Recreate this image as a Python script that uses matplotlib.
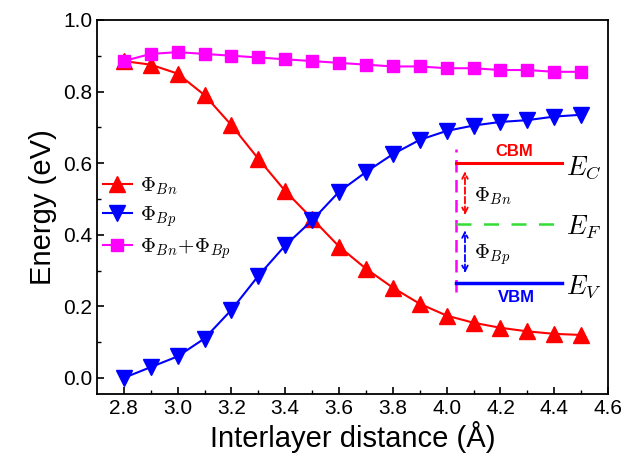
import numpy as np
import matplotlib.pyplot as plt

plt.rcParams['font.family'] = ['Liberation Sans', 'DejaVu Sans']
plt.rcParams['mathtext.fontset'] = 'cm'

# interlayer distance (Angstrom)
distance = [2.8, 2.9, 3.0, 3.1, 3.2, 3.3, 3.4, 3.5, 3.6, 3.7, 3.8, 3.9,
            4.0, 4.1, 4.2, 4.3, 4.4, 4.5]
# Schottky barrier heights (eV)
phi_bn = [0.885, 0.875, 0.85, 0.79, 0.706, 0.612, 0.522, 0.445, 0.367, 0.305,
          0.252, 0.207, 0.174, 0.154, 0.14, 0.13, 0.123, 0.12]
phi_bp = [0.0, 0.03, 0.06, 0.11, 0.19, 0.285, 0.37, 0.44, 0.52, 0.575,
          0.625, 0.665, 0.69, 0.705, 0.715, 0.72, 0.73, 0.735]
phi_sum = [0.885, 0.905, 0.91, 0.905, 0.9, 0.895, 0.89, 0.885, 0.88, 0.875,
           0.87, 0.87, 0.865, 0.865, 0.86, 0.86, 0.855, 0.855]

fig = plt.figure(figsize=(6.25, 4.63), dpi=100)
ax = fig.add_axes([0.155, 0.149, 0.818, 0.808])

ax.plot(distance, phi_bn, '-^', color='red', ms=11, lw=1.5, label=r'$\Phi_{Bn}$')
ax.plot(distance, phi_bp, '-v', color='blue', ms=11, lw=1.5, label=r'$\Phi_{Bp}$')
ax.plot(distance, phi_sum, '-s', color='magenta', ms=9, lw=1.5,
        label=r'$\Phi_{Bn}\!+\!\Phi_{Bp}$')

# band diagram inset
x0, x1 = 4.035, 4.43
ec, ef, ev = 0.599, 0.431, 0.266
ax.plot([x0, x0], [0.24, 0.64], '--', color='magenta', lw=1.8, dashes=(5, 3))
ax.plot([x0, x1], [ec, ec], '-', color='red', lw=2.2)
ax.plot([x0, x1], [ef, ef], '--', color='#33dd33', lw=1.8, dashes=(6, 5))
ax.plot([x0, x1], [ev, ev], '-', color='blue', lw=2.5)
ax.annotate('', xy=(4.068, 0.585), xytext=(4.068, 0.447),
            arrowprops=dict(arrowstyle='<->', color='red', lw=1.3, ls='--'))
ax.annotate('', xy=(4.068, 0.42), xytext=(4.068, 0.285),
            arrowprops=dict(arrowstyle='<->', color='blue', lw=1.3, ls='--'))
ax.text(4.1, 0.507, r'$\Phi_{Bn}$', fontsize=15, va='center')
ax.text(4.1, 0.345, r'$\Phi_{Bp}$', fontsize=15, va='center')
ax.text(4.25, 0.633, 'CBM', color='red', fontsize=12, fontweight='bold',
        ha='center', va='center')
ax.text(4.26, 0.224, 'VBM', color='blue', fontsize=12, fontweight='bold',
        ha='center', va='center')
ax.text(4.445, 0.588, r'$E_C$', fontsize=19, va='center')
ax.text(4.445, 0.42, r'$E_F$', fontsize=19, va='center')
ax.text(4.445, 0.255, r'$E_V$', fontsize=19, va='center')

ax.set_xlim(2.7, 4.6)
ax.set_ylim(-0.045, 1.0)
ax.set_xticks(np.arange(2.8, 4.61, 0.2))
ax.set_xticks(np.arange(2.9, 4.6, 0.2), minor=True)
ax.set_yticks(np.arange(0.0, 1.01, 0.2))
ax.set_yticks(np.arange(0.1, 1.0, 0.2), minor=True)
ax.xaxis.set_major_formatter(plt.FormatStrFormatter('%.1f'))
ax.yaxis.set_major_formatter(plt.FormatStrFormatter('%.1f'))
ax.tick_params(which='both', direction='in', labelsize=15)
ax.tick_params(which='major', length=5, width=1.2)
ax.tick_params(which='minor', length=3, width=1.0)
for s in ax.spines.values():
    s.set_linewidth(1.3)

ax.set_xlabel('Interlayer distance (Å)', fontsize=21, labelpad=2)
ax.set_ylabel('Energy (eV)', fontsize=21, labelpad=4)

ax.legend(loc='upper left', bbox_to_anchor=(-0.025, 0.635), frameon=False,
          fontsize=15, handlelength=1.4, handletextpad=0.4, labelspacing=0.35)

fig.savefig('out.png', dpi=100)
